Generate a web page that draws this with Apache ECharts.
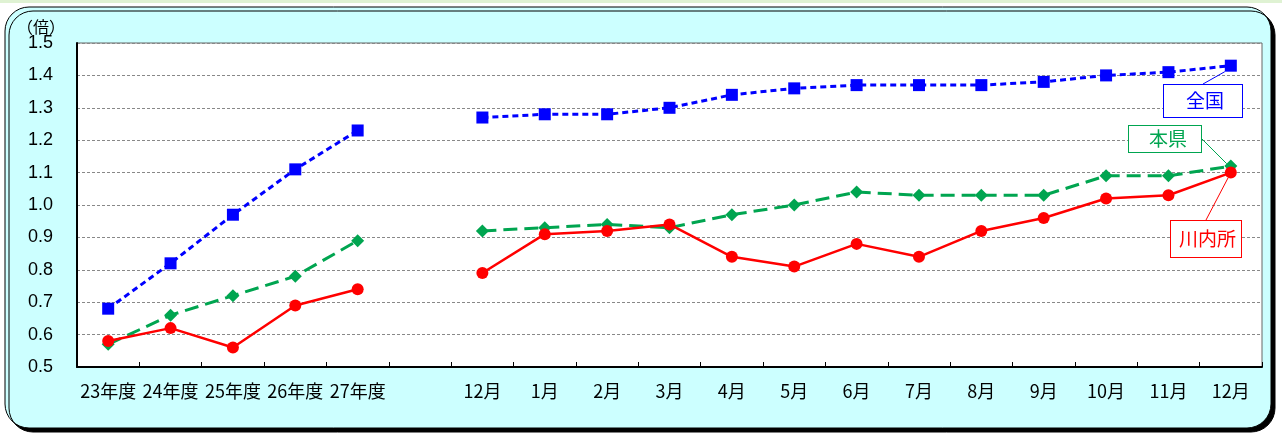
<!DOCTYPE html>
<html><head><meta charset="utf-8">
<script src="https://cdn.jsdelivr.net/npm/echarts@6/dist/echarts.min.js"></script>
<style>html,body{margin:0;padding:0;background:#fff;}#c{width:1282px;height:435px;}</style>
</head><body><div id="c"></div>
<script>
const categories = ['23年度','24年度','25年度','26年度','27年度','','12月','1月','2月','3月','4月','5月','6月','7月','8月','9月','10月','11月','12月'];
const zenkoku = [0.68,0.82,0.97,1.11,1.23,null,1.27,1.28,1.28,1.30,1.34,1.36,1.37,1.37,1.37,1.38,1.40,1.41,1.43];
const honken  = [0.57,0.66,0.72,0.78,0.89,null,0.92,0.93,0.94,0.93,0.97,1.00,1.04,1.03,1.03,1.03,1.09,1.09,1.12];
const sendai  = [0.58,0.62,0.56,0.69,0.74,null,0.79,0.91,0.92,0.94,0.84,0.81,0.88,0.84,0.92,0.96,1.02,1.03,1.10];
const seriesNames = ['全国','本県','川内所'];
const yTicks = {min:0.5, max:1.5, interval:0.1};

const jp = '"Noto Sans CJK JP", sans-serif';
function withCallout(arr, name, color, pad){
  return arr.map((v,i)=> i===arr.length-1 ? {
    value:v,
    label:{show:true, formatter:name, color:color, fontFamily:jp, fontSize:19, lineHeight:20,
      backgroundColor:'#fff', borderColor:color, borderWidth:1, padding:pad},
    labelLine:{show:true, lineStyle:{color:color, width:1}}
  } : v);
}
const chart = echarts.init(document.getElementById('c'));
chart.setOption({
  animation:false,
  graphic:[
    {type:'rect', z:-10, silent:true, shape:{x:0,y:0,width:1282,height:3}, style:{fill:'#dff2d3'}},
    {type:'rect', z:-10, silent:true, shape:{x:5,y:7,width:1266,height:421,r:[24,24,24,24]},
     style:{fill:'#ccffff', stroke:'#000', lineWidth:1, shadowColor:'#000', shadowOffsetX:4, shadowOffsetY:4, shadowBlur:0}}
  ],
  title:{text:'（倍）', left:12, top:14, textStyle:{fontFamily:jp, fontSize:16, fontWeight:'normal', color:'#000'}},
  grid:{left:77, right:20, top:43, bottom:68, show:true, backgroundColor:'#fff', borderColor:'#666', borderWidth:1},
  xAxis:{type:'category', data:categories, boundaryGap:true,
    axisLine:{lineStyle:{color:'#000', width:2}},
    axisTick:{show:true, inside:true, length:5, alignWithLabel:false, interval:0, lineStyle:{color:'#000'}},
    axisLabel:{interval:0, color:'#000', fontFamily:jp, fontSize:18, margin:15}},
  yAxis:{type:'value', min:yTicks.min, max:yTicks.max, interval:yTicks.interval,
    axisLine:{show:true, lineStyle:{color:'#000', width:2}},
    axisTick:{show:false},
    axisLabel:{color:'#000', fontFamily:'"Liberation Sans", Arial, sans-serif', fontSize:18, margin:24,
      formatter:v=>v.toFixed(1)},
    splitLine:{lineStyle:{color:'#888', type:[3,2], width:1}}},
  series:[
    {name:seriesNames[0], type:'line', data:withCallout(zenkoku,seriesNames[0],'#0000ff',[6,18,6,22]), z:3,
     symbol:'rect', symbolSize:12, itemStyle:{color:'#0000ff'},
     lineStyle:{color:'#0000ff', width:3, type:[6,4]},
     labelLayout:()=>({x:1203, y:101, align:'center', verticalAlign:'middle'})},
    {name:seriesNames[1], type:'line', data:withCallout(honken,seriesNames[1],'#00a550',[3,14,3,20]), z:2,
     symbol:'diamond', symbolSize:13, itemStyle:{color:'#00a550'},
     lineStyle:{color:'#00a550', width:3, type:[14,7]},
     labelLayout:()=>({x:1165, y:139, align:'center', verticalAlign:'middle'})},
    {name:seriesNames[2], type:'line', data:withCallout(sendai,seriesNames[2],'#ff0000',[8,5,8,8]), z:4,
     symbol:'circle', symbolSize:12, itemStyle:{color:'#ff0000'},
     lineStyle:{color:'#ff0000', width:2.5},
     labelLayout:()=>({x:1206, y:239, align:'center', verticalAlign:'middle'})}
  ]
});
</script></body></html>
